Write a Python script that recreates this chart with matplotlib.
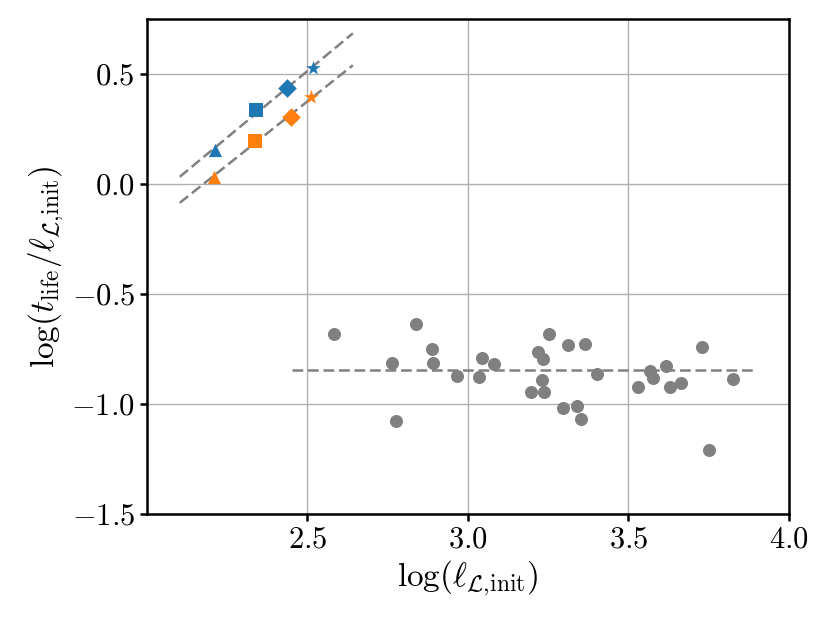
import matplotlib
matplotlib.use("Agg")
import matplotlib.pyplot as plt
from matplotlib.ticker import FuncFormatter, MultipleLocator
import numpy as np

plt.rcParams['mathtext.fontset'] = 'cm'
plt.rcParams['font.family'] = 'serif'
plt.rcParams['font.serif'] = ['cmr10', 'DejaVu Serif']
plt.rcParams['axes.unicode_minus'] = False

# Blue series (triangle, square, diamond, star)
blue_x = [2.212, 2.340, 2.438, 2.518]
blue_y = [0.154, 0.336, 0.438, 0.529]
# Orange series
orange_x = [2.209, 2.336, 2.448, 2.513]
orange_y = [0.030, 0.197, 0.303, 0.397]
markers = ['^', 's', 'D', '*']

# Gray scatter
gray_x = [2.583, 2.765, 2.775, 2.838, 2.887, 2.890, 2.965, 3.034, 3.045, 3.081,
          3.198, 3.220, 3.233, 3.231, 3.238, 3.253, 3.296, 3.312, 3.339, 3.352,
          3.365, 3.401, 3.529, 3.567, 3.577, 3.616, 3.630, 3.664, 3.729, 3.751,
          3.826]
gray_y = [-0.682, -0.812, -1.077, -0.636, -0.750, -0.812, -0.873, -0.879, -0.792, -0.817,
          -0.944, -0.762, -0.794, -0.891, -0.944, -0.683, -1.020, -0.732, -1.009, -1.067,
          -0.726, -0.864, -0.924, -0.849, -0.883, -0.829, -0.924, -0.906, -0.742, -1.210,
          -0.888]

# Fit lines
fit_x_range = [2.103, 2.642]
upper_fit = (1.21, -2.512)
lower_fit = (1.16, -2.525)
flat_x_range = [2.451, 3.899]
flat_level = -0.845

fig = plt.figure(figsize=(8.3, 6.23), dpi=100)
ax = fig.add_axes([0.1767, 0.175, 0.9506 - 0.1767, 0.9695 - 0.175])

ax.grid(True, color='#b0b0b0', linewidth=1.0, zorder=0)
ax.set_axisbelow(True)

dash = (4.3, 1.9)
fx = np.array(fit_x_range)
ax.plot(fx, upper_fit[0] * fx + upper_fit[1], '--', dashes=dash, color='gray', lw=1.8, zorder=2)
ax.plot(fx, lower_fit[0] * fx + lower_fit[1], '--', dashes=dash, color='gray', lw=1.8, zorder=2)
ax.plot(flat_x_range, [flat_level, flat_level], '--', dashes=dash, color='gray', lw=1.8, zorder=2)

for xb, yb, xo, yo, m in zip(blue_x, blue_y, orange_x, orange_y, markers):
    s = 90 if m != '*' else 120
    ax.scatter([xb], [yb], marker=m, s=s, color='#1f77b4', zorder=3, linewidths=0)
    ax.scatter([xo], [yo], marker=m, s=s, color='#ff7f0e', zorder=3, linewidths=0)

ax.scatter(gray_x, gray_y, s=88, color='gray', zorder=3, linewidths=0)

ax.set_xlim(2.0, 4.0)
ax.set_ylim(-1.5, 0.75)
ax.xaxis.set_major_locator(MultipleLocator(0.5))
ax.yaxis.set_major_locator(MultipleLocator(0.5))
fmt = FuncFormatter(lambda v, p: r'$%.1f$' % v)
ax.xaxis.set_major_formatter(fmt)
ax.yaxis.set_major_formatter(fmt)
ax.set_xticks([2.5, 3.0, 3.5, 4.0])

for sp in ax.spines.values():
    sp.set_linewidth(1.8)
ax.tick_params(axis='both', which='major', labelsize=22, width=1.8, length=5)

ax.set_xlabel(r'$\log(\ell_{\mathcal{L},\!\mathrm{init}})$', fontsize=24)
ax.set_ylabel(r'$\log(t_{\mathrm{life}}/\ell_{\mathcal{L},\!\mathrm{init}})$', fontsize=24)

fig.savefig('out.png', dpi=100)
